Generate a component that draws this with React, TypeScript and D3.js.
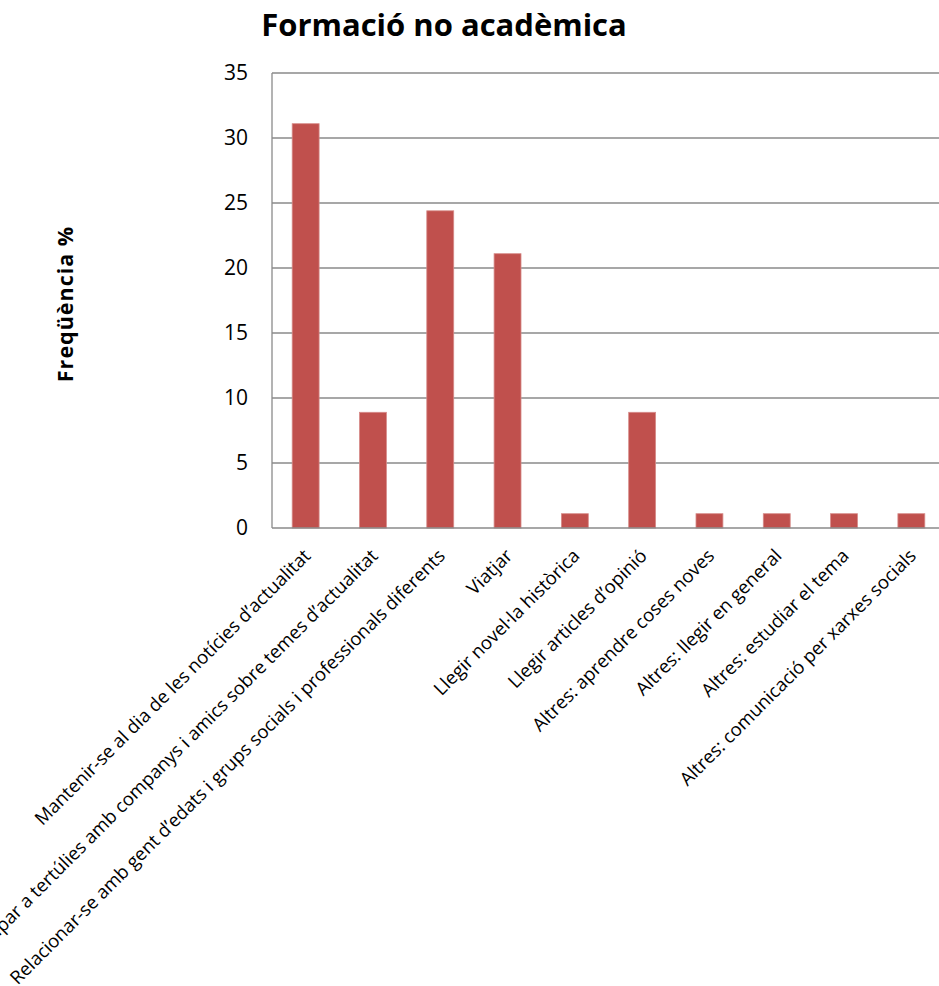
import React from "react";
import * as d3 from "d3";

const title = "Formació no acadèmica";
const yTitle = "Freqüència %";
const categories = [
  "Mantenir-se al dia de les notícies d’actualitat",
  "Participar a tertúlies amb companys i amics sobre temes d’actualitat",
  "Relacionar-se amb gent d’edats i grups socials i professionals diferents",
  "Viatjar",
  "Llegir novel·la històrica",
  "Llegir articles d’opinió",
  "Altres: aprendre coses noves",
  "Altres: llegir en general",
  "Altres: estudiar el tema",
  "Altres: comunicació per xarxes socials",
];
const values = [31.1, 8.9, 24.4, 21.1, 1.1, 8.9, 1.1, 1.1, 1.1, 1.1];
const yTicks = [0, 5, 10, 15, 20, 25, 30, 35];

const W = 939;
const H = 986;
const plotLeft = 272;
const plotRight = 945;
const plotTop = 73;
const plotBottom = 528;
const font = "'Open Sans', 'Noto Sans', sans-serif";
const gridColor = "#8a8a8a";
const barColor = "#C0504D";

export default function App() {
  const x = d3
    .scaleBand<string>()
    .domain(categories)
    .range([plotLeft, plotRight])
    .paddingInner(0.6)
    .paddingOuter(0.3);
  const y = d3.scaleLinear().domain([0, 35]).range([plotBottom, plotTop]);

  return (
    <svg
      width={W}
      height={H}
      style={{ position: "absolute", left: 0, top: 0, background: "#fff" }}
    >
      <text
        x={444}
        y={36}
        textAnchor="middle"
        fontFamily={font}
        fontWeight="bold"
        fontSize={31}
        fill="#000"
      >
        {title}
      </text>
      <text
        transform={`translate(73,304) rotate(-90)`}
        textAnchor="middle"
        fontFamily={font}
        fontWeight="bold"
        fontSize={21.5}
        letterSpacing={1}
        fill="#000"
      >
        {yTitle}
      </text>
      {yTicks.map((t) => (
        <g key={t}>
          {t > 0 && (
            <line
              x1={plotLeft}
              x2={plotRight}
              y1={y(t)}
              y2={y(t)}
              stroke={gridColor}
              strokeWidth={1.3}
            />
          )}
          <text
            x={248}
            y={y(t)}
            dy="0.35em"
            textAnchor="end"
            fontFamily={font}
            fontSize={21}
            fill="#000"
          >
            {t}
          </text>
        </g>
      ))}
      {categories.map((c, i) => (
        <rect
          key={c}
          x={x(c)}
          y={y(values[i])}
          width={x.bandwidth()}
          height={y(0) - y(values[i])}
          fill={barColor}
          stroke="#d68b89"
          strokeWidth={0.8}
        />
      ))}
      <line
        x1={plotLeft}
        x2={plotLeft}
        y1={plotTop}
        y2={plotBottom}
        stroke={gridColor}
        strokeWidth={1.3}
      />
      <line
        x1={plotLeft}
        x2={plotRight}
        y1={plotBottom}
        y2={plotBottom}
        stroke={gridColor}
        strokeWidth={1.3}
      />
      {categories.map((c) => {
        const cx = (x(c) as number) + x.bandwidth() / 2 + 6;
        return (
          <text
            key={c}
            transform={`translate(${cx},557) rotate(-45)`}
            textAnchor="end"
            fontFamily={font}
            fontSize={18.5}
            fill="#000"
          >
            {c}
          </text>
        );
      })}
    </svg>
  );
}
